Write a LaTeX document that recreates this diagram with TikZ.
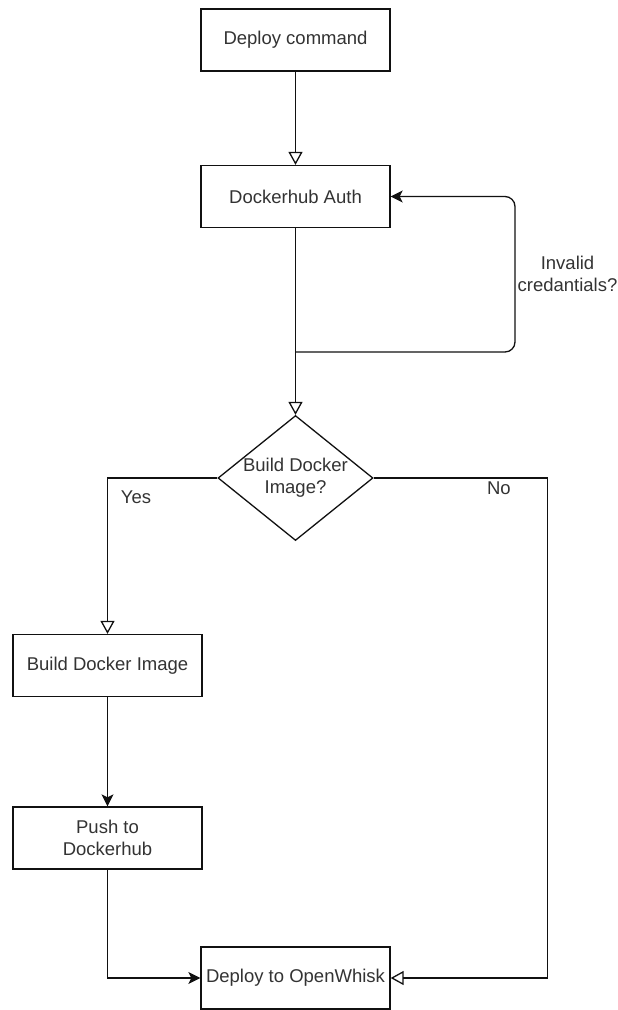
\documentclass[tikz,border=0pt]{standalone}
\usepackage{fontspec}
\setmainfont{Liberation Sans}
\usepackage{tikz}
\usetikzlibrary{arrows.meta,positioning,shapes.geometric}
\definecolor{flowink}{HTML}{111111}
\definecolor{flowtext}{HTML}{333333}

\begin{document}
\begin{tikzpicture}[x=1pt,y=-1pt,
  stepbox/.style={draw=flowink, line width=1.3pt, fill=white, minimum width=189pt, minimum height=62pt,
    inner sep=2pt, align=center, text=flowtext, font=\fontsize{18.5}{22}\selectfont},
  choice/.style={draw=flowink, line width=1.3pt, fill=white, diamond, minimum width=155pt, minimum height=125pt, inner sep=0pt},
  tag/.style={text=flowtext, font=\fontsize{18.5}{22}\selectfont, inner sep=2pt, align=center},
  link/.style={draw=flowink, line width=1.3pt},
  openarrow/.style={link, -{Triangle[open, length=13pt, width=14pt]}},
  fullarrow/.style={link, -{Stealth[length=12pt, width=12pt, inset=3pt]}}]
  \useasboundingbox (0,0) rectangle (618,1010);

  % Boxes
  \node[stepbox] (cmd) at (295.5,40) {Deploy command};
  \node[stepbox] (auth) at (295.5,196.5) {Dockerhub Auth};
  \node[choice, label={[tag]center:Build Docker\\Image?}] (decide) at (295.5,478) {};
  \node[stepbox] (build) at (107.5,665.5) {Build Docker Image};
  \node[stepbox] (push) at (107.5,838) {Push to\\Dockerhub};
  \node[stepbox] (deploy) at (295.5,978) {Deploy to OpenWhisk};

  % Top part
  \draw[openarrow] (cmd) -- (auth);
  \draw[openarrow] (auth) -- (decide);
  \coordinate (retry) at (295.5,352);
  \draw[fullarrow, rounded corners=10pt] (retry) -- ++(219.5,0) |- node[tag, pos=0.25, right]{Invalid\\credantials?} (auth.east);

  % Branches
  \draw[openarrow] (decide.west) -| node[tag, pos=0.37, below=10pt]{Yes} (build.north);
  \draw[openarrow] (decide.east) -- node[tag, pos=0.72, below=1pt]{No} ++(174,0) |- (deploy.east);
  \draw[fullarrow] (build) -- (push);
  \draw[fullarrow] (push) |- (deploy.west);
\end{tikzpicture}
\end{document}
